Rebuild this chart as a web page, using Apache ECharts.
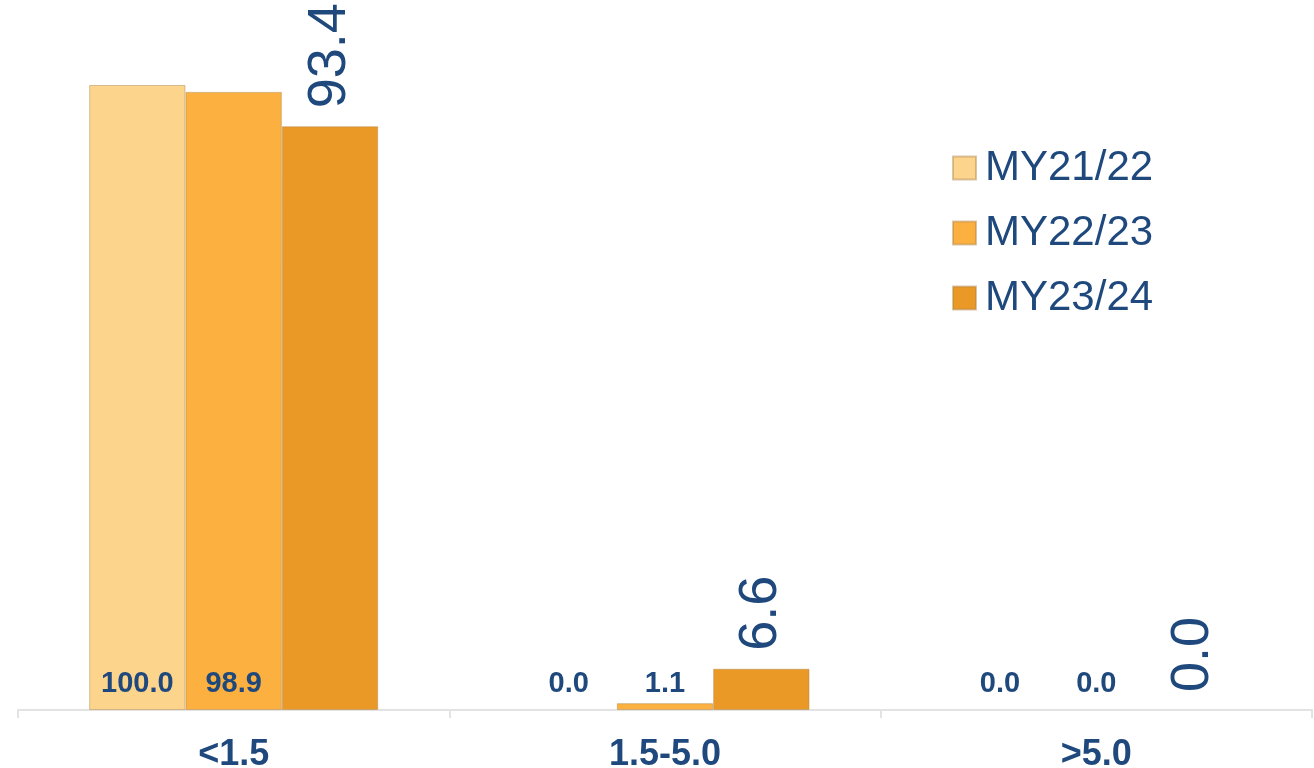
<!DOCTYPE html>
<html>
<head>
<meta charset="utf-8">
<script src="https://cdn.jsdelivr.net/npm/echarts@6/dist/echarts.min.js"></script>
<style>html,body{margin:0;padding:0;background:#fff}#c{width:1314px;height:768px}</style>
</head>
<body>
<div id="c"></div>
<script>
const categories = ['<1.5', '1.5-5.0', '>5.0'];
const seriesNames = ['MY21/22', 'MY22/23', 'MY23/24'];
const my2122 = [100.0, 0.0, 0.0];
const my2223 = [98.9, 1.1, 0.0];
const my2324 = [93.4, 6.6, 0.0];
const colors = ['#FDD48B', '#FBB040', '#EB9926'];
const textColor = '#1F497D';

const smallLabel = {
  show: true, position: 'insideBottom', distance: 12,
  color: textColor, fontFamily: 'Liberation Sans, Arial', fontWeight: 'bold', fontSize: 29,
  formatter: p => p.value.toFixed(1)
};
const bigLabel = {
  show: true, position: 'top', distance: 18, rotate: 90, align: 'left', verticalAlign: 'middle',
  color: textColor, fontFamily: 'Liberation Sans, Arial', fontSize: 54,
  formatter: p => p.value.toFixed(1)
};
const toData = (arr) => arr.map(v => v === 0 ? { value: v, itemStyle: { borderWidth: 0 } } : v);
const itemStyle = (c) => ({ color: c, borderColor: 'rgba(170,130,70,0.45)', borderWidth: 1 });

const chart = echarts.init(document.getElementById('c'));
chart.setOption({
  animation: false,
  grid: { left: 18, right: 2, top: 85, bottom: 58, containLabel: false, outerBoundsMode: 'none' },
  legend: {
    orient: 'vertical', left: 947, top: 142, itemWidth: 23, itemHeight: 23, itemGap: 23,
    icon: 'rect',
    textStyle: { color: textColor, fontSize: 42, fontFamily: 'Liberation Sans, Arial', padding: [0, 0, 0, 4] },
    data: seriesNames
  },
  xAxis: {
    type: 'category', data: categories,
    axisLine: { lineStyle: { color: '#E3E3E3', width: 2 } },
    axisTick: { show: true, length: 8, lineStyle: { color: '#E3E3E3', width: 2 } },
    axisLabel: { color: textColor, fontWeight: 'bold', fontSize: 36, fontFamily: 'Liberation Sans, Arial', margin: 27 }
  },
  yAxis: { type: 'value', min: 0, max: 100, show: false, splitLine: { show: false } },
  series: [
    { name: seriesNames[0], type: 'bar', data: toData(my2122), barGap: '0%', barCategoryGap: '33%', itemStyle: itemStyle(colors[0]), label: smallLabel },
    { name: seriesNames[1], type: 'bar', data: toData(my2223), barGap: '0%', barCategoryGap: '33%', itemStyle: itemStyle(colors[1]), label: smallLabel },
    { name: seriesNames[2], type: 'bar', data: toData(my2324), barGap: '0%', barCategoryGap: '33%', itemStyle: itemStyle(colors[2]), label: bigLabel }
  ]
});
</script>
</body>
</html>
